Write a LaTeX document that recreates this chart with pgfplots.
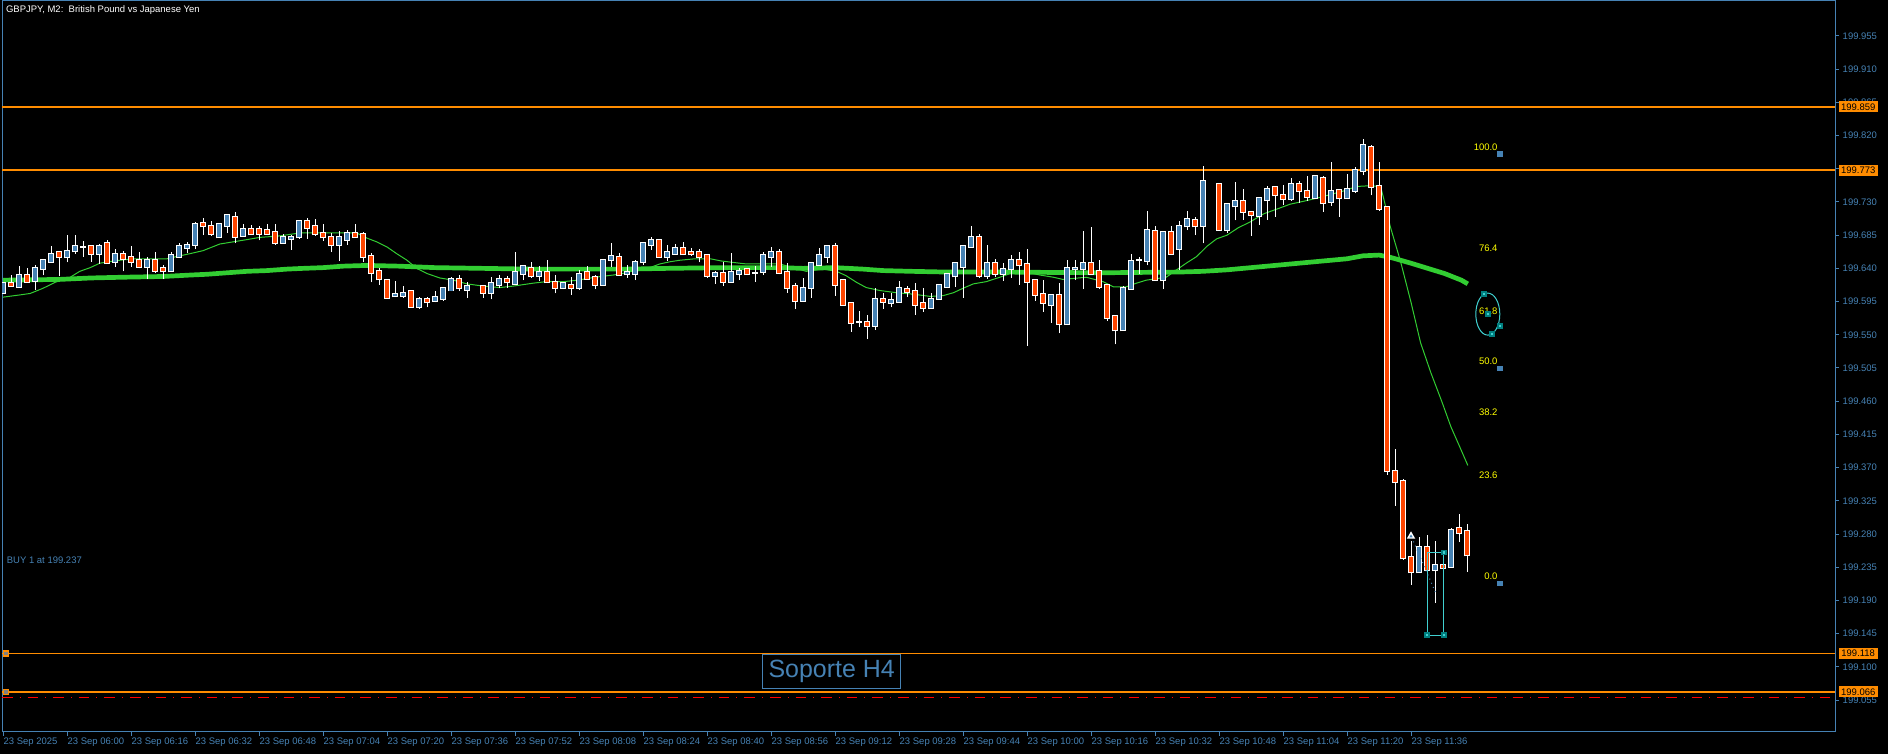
\documentclass[border=0pt]{standalone}
\usepackage{pgfplots}
\pgfplotsset{compat=1.18}
\usepackage{pgfplotstable}
\usepackage{fontspec}
\setmainfont{Liberation Sans}

\definecolor{bull}{RGB}{70,130,180}
\definecolor{bear}{RGB}{255,69,0}
\definecolor{axisblue}{RGB}{70,130,180}
\definecolor{maline}{RGB}{50,205,50}
\definecolor{lvl}{RGB}{255,140,0}
\definecolor{fibcyan}{RGB}{64,208,208}
\definecolor{fibyellow}{RGB}{255,255,0}
\newcommand\mtfont{\fontsize{2.7pt}{3pt}\selectfont}

% GBPJPY M2 bars: index, open, high, low, close
\pgfplotstableread{
i o h l c
0 199.606 199.621 199.605 199.620
1 199.620 199.631 199.615 199.616
2 199.615 199.643 199.614 199.631
3 199.631 199.641 199.621 199.622
4 199.623 199.644 199.611 199.640
5 199.639 199.653 199.631 199.652
6 199.649 199.670 199.648 199.660
7 199.662 199.663 199.629 199.656
8 199.655 199.685 199.648 199.663
9 199.663 199.685 199.660 199.671
10 199.669 199.677 199.656 199.669
11 199.670 199.672 199.649 199.660
12 199.660 199.673 199.646 199.670
13 199.674 199.679 199.646 199.647
14 199.649 199.666 199.642 199.659
15 199.659 199.664 199.636 199.653
16 199.656 199.670 199.642 199.649
17 199.651 199.662 199.640 199.642
18 199.642 199.656 199.625 199.651
19 199.651 199.662 199.634 199.637
20 199.640 199.644 199.625 199.636
21 199.636 199.662 199.635 199.658
22 199.656 199.674 199.654 199.670
23 199.668 199.676 199.661 199.672
24 199.672 199.703 199.666 199.700
25 199.702 199.708 199.685 199.697
26 199.698 199.704 199.684 199.686
27 199.682 199.701 199.681 199.700
28 199.698 199.713 199.688 199.712
29 199.709 199.717 199.674 199.683
30 199.684 199.700 199.683 199.693
31 199.693 199.699 199.685 199.686
32 199.693 199.698 199.678 199.687
33 199.692 199.700 199.685 199.687
34 199.689 199.700 199.672 199.675
35 199.675 199.687 199.674 199.682
36 199.680 199.685 199.665 199.683
37 199.682 199.706 199.680 199.704
38 199.704 199.708 199.680 199.695
39 199.697 199.707 199.684 199.686
40 199.688 199.700 199.677 199.682
41 199.683 199.688 199.662 199.671
42 199.672 199.691 199.650 199.683
43 199.679 199.692 199.672 199.688
44 199.688 199.700 199.683 199.683
45 199.687 199.689 199.648 199.656
46 199.657 199.661 199.621 199.634
47 199.637 199.640 199.618 199.625
48 199.624 199.625 199.599 199.600
49 199.602 199.623 199.601 199.605
50 199.603 199.616 199.600 199.606
51 199.609 199.611 199.587 199.588
52 199.588 199.601 199.585 199.599
53 199.598 199.601 199.587 199.594
54 199.596 199.609 199.594 199.601
55 199.599 199.614 199.596 199.613
56 199.610 199.628 199.609 199.625
57 199.625 199.631 199.609 199.613
58 199.611 199.621 199.600 199.616
60 199.616 199.617 199.600 199.607
61 199.607 199.628 199.598 199.620
62 199.618 199.631 199.614 199.625
63 199.625 199.630 199.614 199.621
64 199.619 199.662 199.617 199.635
65 199.633 199.644 199.624 199.643
66 199.641 199.649 199.627 199.629
67 199.629 199.643 199.623 199.635
68 199.635 199.651 199.620 199.621
69 199.622 199.631 199.606 199.614
70 199.614 199.621 199.612 199.620
71 199.617 199.628 199.604 199.614
72 199.614 199.638 199.611 199.632
73 199.635 199.643 199.625 199.626
74 199.628 199.631 199.612 199.618
75 199.618 199.653 199.616 199.652
76 199.651 199.674 199.642 199.657
77 199.656 199.661 199.630 199.631
78 199.632 199.645 199.627 199.635
79 199.633 199.651 199.624 199.648
80 199.648 199.676 199.645 199.674
81 199.672 199.683 199.665 199.679
82 199.678 199.680 199.656 199.656
83 199.656 199.672 199.650 199.662
84 199.660 199.673 199.659 199.667
85 199.667 199.676 199.658 199.659
86 199.662 199.667 199.657 199.659
87 199.662 199.666 199.648 199.656
88 199.658 199.659 199.627 199.630
89 199.630 199.636 199.619 199.634
90 199.634 199.649 199.616 199.622
91 199.622 199.661 199.621 199.635
92 199.633 199.641 199.624 199.637
93 199.639 199.640 199.631 199.632
94 199.634 199.643 199.622 199.634
95 199.635 199.662 199.631 199.658
96 199.656 199.669 199.642 199.662
97 199.662 199.666 199.632 199.634
98 199.635 199.647 199.607 199.614
99 199.616 199.620 199.585 199.596
100 199.596 199.627 199.595 199.614
101 199.613 199.649 199.600 199.647
102 199.645 199.668 199.644 199.658
103 199.656 199.671 199.647 199.670
104 199.670 199.675 199.603 199.618
105 199.624 199.625 199.590 199.591
106 199.593 199.593 199.554 199.566
107 199.567 199.582 199.560 199.567
108 199.567 199.577 199.544 199.562
109 199.562 199.613 199.557 199.599
110 199.598 199.607 199.585 199.595
111 199.593 199.606 199.587 199.597
112 199.595 199.623 199.594 199.613
113 199.612 199.616 199.601 199.608
114 199.609 199.620 199.577 199.591
115 199.593 199.613 199.581 199.586
116 199.586 199.606 199.585 199.599
117 199.599 199.618 199.599 199.617
118 199.615 199.632 199.615 199.632
119 199.629 199.649 199.615 199.647
120 199.642 199.671 199.600 199.670
121 199.669 199.698 199.668 199.683
122 199.683 199.687 199.627 199.630
123 199.630 199.672 199.626 199.647
124 199.647 199.653 199.628 199.633
125 199.633 199.647 199.623 199.639
126 199.639 199.658 199.627 199.652
127 199.651 199.662 199.618 199.644
128 199.646 199.666 199.535 199.622
129 199.624 199.625 199.596 199.604
130 199.605 199.624 199.581 199.593
131 199.591 199.605 199.566 199.604
132 199.604 199.620 199.552 199.564
133 199.564 199.651 199.563 199.640
134 199.639 199.652 199.624 199.641
135 199.639 199.691 199.612 199.647
136 199.647 199.696 199.633 199.633
137 199.637 199.652 199.612 199.615
138 199.618 199.618 199.569 199.573
139 199.576 199.576 199.537 199.556
140 199.556 199.616 199.556 199.614
141 199.612 199.660 199.611 199.650
142 199.651 199.655 199.633 199.651
143 199.650 199.718 199.644 199.692
144 199.690 199.698 199.624 199.624
145 199.624 199.689 199.612 199.689
146 199.689 199.698 199.658 199.660
147 199.666 199.704 199.638 199.697
148 199.697 199.718 199.692 199.707
149 199.705 199.710 199.685 199.697
150 199.698 199.779 199.674 199.758
152 199.754 199.754 199.692 199.692
153 199.692 199.728 199.688 199.727
154 199.724 199.757 199.705 199.731
155 199.731 199.747 199.706 199.717
156 199.716 199.717 199.684 199.712
157 199.711 199.737 199.699 199.735
158 199.732 199.752 199.706 199.748
159 199.750 199.752 199.710 199.739
160 199.739 199.753 199.726 199.734
161 199.734 199.762 199.731 199.755
162 199.755 199.759 199.729 199.745
163 199.745 199.765 199.731 199.737
164 199.735 199.767 199.734 199.765
165 199.763 199.765 199.717 199.728
166 199.730 199.784 199.725 199.745
167 199.746 199.746 199.710 199.735
168 199.735 199.768 199.734 199.747
169 199.745 199.777 199.742 199.773
170 199.772 199.815 199.766 199.807
171 199.804 199.807 199.739 199.750
172 199.751 199.784 199.718 199.721
173 199.723 199.723 199.360 199.365
174 199.366 199.395 199.318 199.351
175 199.352 199.354 199.245 199.247
176 199.249 199.270 199.211 199.228
177 199.228 199.276 199.227 199.263
178 199.262 199.279 199.230 199.231
179 199.231 199.271 199.187 199.238
180 199.238 199.255 199.232 199.234
181 199.235 199.288 199.234 199.285
182 199.288 199.307 199.269 199.282
183 199.284 199.294 199.229 199.251
}\candles

% slow moving average (thick)
\pgfplotstableread{
i v
0 199.624
7 199.625
11 199.627
15 199.628
20 199.629
23.5 199.631
25.5 199.632
28 199.634
30.5 199.636
33 199.637
35.5 199.639
37.5 199.640
40 199.641
42.5 199.643
45.5 199.644
49.5 199.643
54 199.641
60 199.640
66 199.639
78 199.639
83 199.640
90 199.641
97 199.641
100 199.640
104 199.641
107.5 199.639
110 199.637
113.5 199.636
118 199.635
125 199.635
137 199.634
147 199.635
150 199.636
153 199.638
156 199.641
158 199.643
160 199.645
162 199.647
164 199.649
166 199.651
168 199.653
170 199.657
172 199.658
173.4 199.655
176 199.647
178.1 199.640
180.2 199.633
182.3 199.624
183.1 199.619
}\maslow

% fast moving average (thin)
\pgfplotstableread{
i v
0 199.601
2.1 199.604
3.4 199.606
5.0 199.613
6.5 199.621
8.4 199.628
9.6 199.636
10.9 199.641
12.1 199.647
13.8 199.650
16.3 199.653
20.5 199.653
21.7 199.656
23.4 199.660
25.0 199.664
27.1 199.673
28.8 199.676
30.5 199.679
32.1 199.682
34.6 199.684
37.1 199.688
44.2 199.688
45.5 199.681
46.7 199.676
48.0 199.669
49.2 199.660
50.5 199.651
51.7 199.640
53.0 199.633
54.6 199.627
56.3 199.624
58.0 199.619
60.0 199.616
62.1 199.614
63.8 199.616
66.3 199.620
67.9 199.622
70.0 199.622
71.9 199.624
74.0 199.628
76.3 199.631
77.9 199.634
79.6 199.639
81.1 199.642
82.1 199.646
83.4 199.649
84.6 199.651
86.5 199.653
88.4 199.653
89.8 199.650
91.3 199.648
92.9 199.646
97.1 199.646
100.4 199.636
102.5 199.639
104.2 199.636
105.4 199.630
106.7 199.621
107.9 199.614
109.6 199.610
111.7 199.607
113.8 199.605
115.9 199.602
117.5 199.603
118.8 199.607
120.0 199.613
121.3 199.619
122.9 199.622
124.6 199.628
125.9 199.633
127.1 199.637
129.6 199.631
131.3 199.628
132.5 199.625
135.4 199.628
137.5 199.622
138.8 199.615
140.4 199.615
141.7 199.620
142.9 199.624
145.4 199.628
146.7 199.638
147.9 199.647
149.2 199.656
150.5 199.670
151.7 199.680
153.0 199.685
154.4 199.695
155.9 199.703
157.6 199.714
159.4 199.721
160.9 199.727
162.6 199.731
164.2 199.735
165.9 199.740
167.6 199.745
169.2 199.751
170.9 199.752
172.2 199.751
172.6 199.734
173.4 199.697
174.7 199.649
176.0 199.594
177.2 199.539
178.5 199.498
179.8 199.461
181.0 199.425
182.3 199.393
183.1 199.373
}\mafast

\begin{document}
\begin{tikzpicture}
\useasboundingbox (0,0) rectangle (18.88,7.54);
\fill[black] (0,0) rectangle (18.88,7.54);
\begin{axis}[
  at={(0.02cm,0.22cm)}, anchor=south west,
  scale only axis, width=18.33cm, height=7.31cm,
  xmin=-0.125, xmax=229, ymin=199.0117, ymax=200.0024,
  axis line style={axisblue, line width=0.1mm},
  tick style={axisblue, line width=0.1mm},
  tick align=outside, major tick length=0.4mm,
  xtick pos=bottom, xticklabel pos=bottom,
  ytick pos=right, yticklabel pos=right,
  xtick={0,8,...,176},
  xticklabels={23 Sep 2025, 23 Sep 06:00, 23 Sep 06:16, 23 Sep 06:32, 23 Sep 06:48, 23 Sep 07:04, 23 Sep 07:20, 23 Sep 07:36, 23 Sep 07:52, 23 Sep 08:08, 23 Sep 08:24, 23 Sep 08:40, 23 Sep 08:56, 23 Sep 09:12, 23 Sep 09:28, 23 Sep 09:44, 23 Sep 10:00, 23 Sep 10:16, 23 Sep 10:32, 23 Sep 10:48, 23 Sep 11:04, 23 Sep 11:20, 23 Sep 11:36},
  xticklabel style={anchor=north west, font=\mtfont, text=axisblue, inner sep=0pt, yshift=-0.1mm},
  ytick={199.055,199.100,199.145,199.190,199.235,199.280,199.325,199.370,199.415,199.460,199.505,199.550,199.595,199.640,199.685,199.730,199.775,199.820,199.865,199.910,199.955},
  yticklabels={199.055,199.100,199.145,199.190,199.235,199.280,199.325,199.370,199.415,199.460,199.505,199.550,199.595,199.640,199.685,199.730,199.775,199.820,199.865,199.910,199.955},
  yticklabel style={anchor=west, font=\mtfont, text=axisblue, inner sep=0pt, xshift=0.3mm},
]
% level lines
\addplot[lvl, line width=0.17mm] coordinates {(-0.125,199.859) (229,199.859)};
\addplot[lvl, line width=0.17mm] coordinates {(-0.125,199.773) (229,199.773)};
\addplot[lvl, line width=0.17mm] coordinates {(-0.125,199.118) (229,199.118)};
\addplot[lvl, line width=0.17mm] coordinates {(-0.125,199.066) (229,199.066)};
\addplot[red, line width=0.1mm, dash dot] coordinates {(-0.125,199.058) (229,199.058)};

% moving averages
\addplot[maline, line width=0.47mm, line join=round] table[x=i, y=v] {\maslow};
\addplot[maline, line width=0.1mm] table[x=i, y=v] {\mafast};

% candles: wicks, outlines, bodies
\addplot[white, line width=0.1mm, -, quiver={u=0, v=\thisrow{h}-\thisrow{l}}] table[x=i, y=l] {\candles};
\addplot[white, line width=0.6mm, -, quiver={u=0, v=abs(\thisrow{c}-\thisrow{o})+0.0027}] table[x=i, y expr={min(\thisrow{o},\thisrow{c})-0.00135}] {\candles};
\addplot[bull, line width=0.4mm, -, quiver={u=0, v=\thisrow{c}-\thisrow{o}}, x filter/.expression={\thisrow{c}>\thisrow{o} ? x : nan}] table[x=i, y=o] {\candles};
\addplot[bear, line width=0.4mm, -, quiver={u=0, v=\thisrow{o}-\thisrow{c}}, x filter/.expression={\thisrow{c}<\thisrow{o} ? x : nan}] table[x=i, y=c] {\candles};

% fibonacci labels and anchors
\node[text=fibyellow, font=\mtfont, anchor=south east, inner sep=0pt] at (axis cs:186.9,199.799) {100.0};
\node[text=fibyellow, font=\mtfont, anchor=south east, inner sep=0pt] at (axis cs:186.9,199.662) {76.4};
\node[text=fibyellow, font=\mtfont, anchor=south east, inner sep=0pt] at (axis cs:186.9,199.577) {61.8};
\node[text=fibyellow, font=\mtfont, anchor=south east, inner sep=0pt] at (axis cs:186.9,199.508) {50.0};
\node[text=fibyellow, font=\mtfont, anchor=south east, inner sep=0pt] at (axis cs:186.9,199.439) {38.2};
\node[text=fibyellow, font=\mtfont, anchor=south east, inner sep=0pt] at (axis cs:186.9,199.354) {23.6};
\node[text=fibyellow, font=\mtfont, anchor=south east, inner sep=0pt] at (axis cs:186.9,199.217) {0.0};
\addplot[only marks, mark=square*, mark size=0.2mm, bull] coordinates {(187.1,199.795) (187.1,199.504) (187.1,199.213)};

% ellipse and rectangle objects
\draw[fibcyan, line width=0.1mm] (axis cs:185.6,199.578) ellipse [x radius=1.2mm, y radius=2.1mm];
\draw[fibcyan, line width=0.1mm] (axis cs:178.0,199.255) rectangle (axis cs:180.1,199.143);
\addplot[only marks, mark=square*, mark size=0.2mm, fill=fibcyan, draw=teal] coordinates {(185.1,199.605) (185.6,199.578) (187.1,199.562) (186.1,199.551) (180.1,199.255) (178.0,199.143) (180.1,199.143)};

% trade marker
\addplot[axisblue, line width=0.1mm, densely dotted] coordinates {(176.3,199.270) (179.1,199.200)};
\addplot[only marks, mark=triangle*, mark size=0.35mm, fill=axisblue, draw=white] coordinates {(176,199.277)};

% left anchors of levels
\addplot[only marks, mark=square*, mark size=0.25mm, fill=gray, draw=lvl] coordinates {(0.4,199.118) (0.4,199.066)};

\node[draw=axisblue, line width=0.1mm, text=axisblue, font=\fontsize{7.1pt}{8pt}\selectfont, anchor=north west, minimum width=13.8mm, minimum height=3.4mm, inner sep=0pt] at (axis cs:94.9,199.118) {Soporte H4};
\node[text=axisblue, font=\mtfont, anchor=west, inner sep=0pt] at (axis cs:0.4,199.245) {BUY 1 at 199.237};
\node[text=white, font=\mtfont, anchor=north west, inner sep=0pt] at (axis cs:0.3,199.997) {GBPJPY, M2:\ \ British Pound vs Japanese Yen};

\coordinate (p859) at (axis cs:229,199.859);
\coordinate (p773) at (axis cs:229,199.773);
\coordinate (p118) at (axis cs:229,199.118);
\coordinate (p066) at (axis cs:229,199.066);
\end{axis}
\foreach \p/\t in {p859/199.859, p773/199.773, p118/199.118, p066/199.066}
  \node[fill=lvl, text=black, font=\mtfont, inner sep=0pt, minimum width=3.9mm, minimum height=1.1mm, anchor=west] at ([xshift=0.3mm]\p) {\t};
\end{tikzpicture}
\end{document}
